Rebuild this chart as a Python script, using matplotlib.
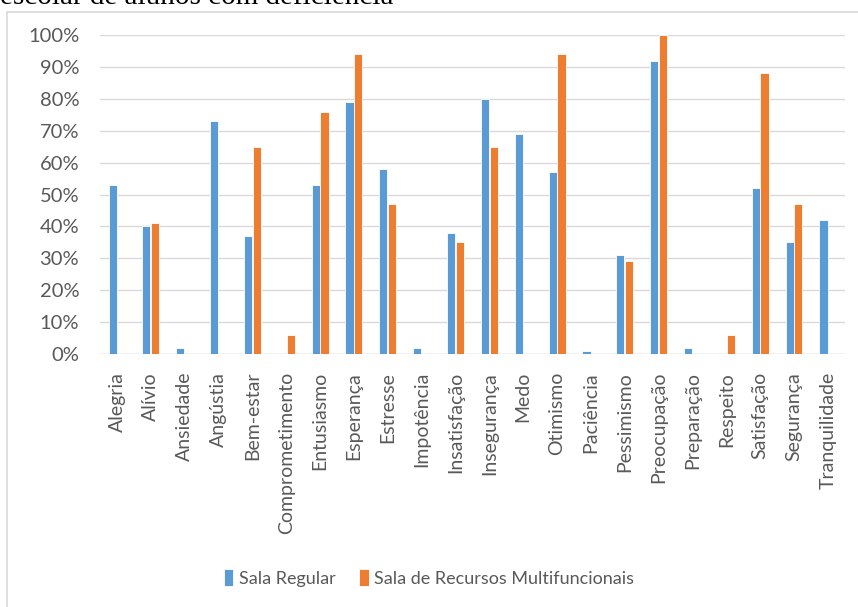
import matplotlib.pyplot as plt
import numpy as np
from matplotlib.patches import Rectangle

categorias = ['Alegria', 'Alívio', 'Ansiedade', 'Angústia', 'Bem-estar', 'Comprometimento',
              'Entusiasmo', 'Esperança', 'Estresse', 'Impotência', 'Insatisfação', 'Insegurança',
              'Medo', 'Otimismo', 'Paciência', 'Pessimismo', 'Preocupação', 'Preparação',
              'Respeito', 'Satisfação', 'Segurança', 'Tranquilidade']
sala_regular = [53, 40, 2, 73, 37, 0, 53, 79, 58, 2, 38, 80, 69, 57, 1, 31, 92, 2, 0, 52, 35, 42]
sala_recursos = [0, 41, 0, 0, 65, 6, 76, 94, 47, 0, 35, 65, 0, 94, 0, 29, 100, 0, 6, 88, 47, 0]
y_ticks = [0, 10, 20, 30, 40, 50, 60, 70, 80, 90, 100]

plt.rcParams['font.family'] = ['Lato', 'DejaVu Sans']

fig = plt.figure(figsize=(8.58, 6.07), dpi=100)
ax = fig.add_axes([0.1166, 0.417, 0.868, 0.525])

# moldura do gráfico (cortada à direita e embaixo)
fig.patches.append(Rectangle((7 / 858, -0.1), 1.0, 1 - 12 / 607 + 0.1, transform=fig.transFigure,
                             fill=False, edgecolor='#D9D9D9', linewidth=1.2))

# texto do documento, cortado no topo
fig.text(0.0, 1 - 4 / 607, 'escolar de alunos com deficiência', family='Liberation Serif',
         fontsize=21, color='black', va='baseline', ha='left')

x = np.arange(len(categorias))
w = 0.24
ax.bar(x - w / 2 - 0.01, sala_regular, width=w, color='#5B9BD5', edgecolor='white',
       linewidth=0.6, label='Sala Regular', zorder=3)
ax.bar(x + w / 2 + 0.01, sala_recursos, width=w, color='#ED7D31', edgecolor='white',
       linewidth=0.6, label='Sala de Recursos Multifuncionais', zorder=3)

ax.set_xlim(-0.5, len(categorias) - 0.5)
ax.set_ylim(0, 100)
ax.set_yticks(y_ticks)
ax.set_yticklabels([f'{v}%' for v in y_ticks], color='#595959', fontsize=14.5)
ax.set_xticks(x)
ax.set_xticklabels(categorias, rotation=90, color='#595959', fontsize=14)
ax.tick_params(length=0)
ax.tick_params(axis='x', pad=13)
ax.tick_params(axis='y', pad=15)
ax.grid(axis='y', color='#D9D9D9', linewidth=1, zorder=0)
for s in ax.spines.values():
    s.set_visible(False)
ax.axhline(0, color='#D9D9D9', linewidth=1, zorder=2)

fig.legend(loc='center', bbox_to_anchor=(0.5, 1 - 578 / 607), ncol=2, frameon=False,
           fontsize=13, handlelength=0.55, handleheight=1.0, handletextpad=0.3,
           columnspacing=1.3, labelcolor='#595959')

fig.savefig('out.png', dpi=100)
